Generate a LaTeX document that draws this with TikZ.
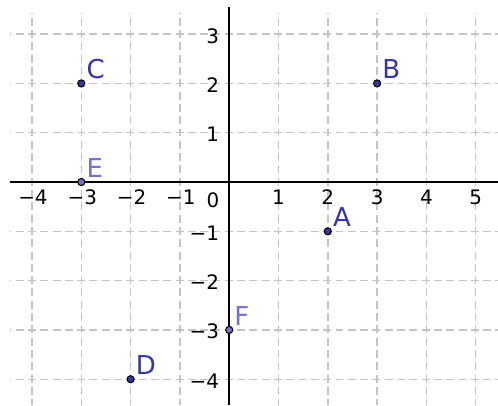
\documentclass[tikz,border=0pt]{standalone}
\usepackage{fontspec}
\setmainfont{DejaVu Sans}
\usetikzlibrary{positioning}
\definecolor{ggbdark}{HTML}{3535A5}
\definecolor{ggblight}{HTML}{7272CC}
\definecolor{ggbgrid}{HTML}{C4C4C4}

\begin{document}
\begin{tikzpicture}[
  gridv/.style={ggbgrid,line width=0.8pt,dash pattern=on 4.6pt off 2.5pt,dash phase=4.58pt},
  gridh/.style={ggbgrid,line width=0.8pt,dash pattern=on 4.6pt off 2.5pt,dash phase=3.73pt},
  axis/.style={black,line width=1.1pt},
  tick/.style={font=\fontsize{11.5}{13}\selectfont,inner sep=0pt},
  pt/.style={circle,draw=black,line width=0.6pt,minimum size=1.45mm,inner sep=0pt},
  lbl/.style={font=\fontsize{15}{18}\selectfont,inner sep=0pt}]
  \useasboundingbox (-4.649,-4.523) rectangle (5.452,3.692);
  \foreach \x in {-4,...,5}
    \draw[gridv] (\x,3.42) -- (\x,-4.523);
  \foreach \y in {-4,...,3}
    \draw[gridh] (-4.45,\y) -- (5.452,\y);
  \coordinate (xl) at (-4.45,0);
  \coordinate (xr) at (5.452,0);
  \coordinate (yt) at (0,3.55);
  \coordinate (yb) at (0,-4.523);
  \draw[axis] (xl) -- (xr);
  \draw[axis] (yt) -- (yb);
  \foreach \x in {1,...,5}
    \node[tick] (xp\x) at (\x,-0.31) {\x};
  \foreach \x in {1,...,4}
    \node[tick] (xm\x) at (-\x+0.02,-0.31) {−\x};
  \foreach \y in {1,...,3}
    \node[tick,anchor=east] (yp\y) at (-0.2,\y-0.035) {\y};
  \foreach \y in {1,...,4}
    \node[tick,anchor=east] (ym\y) at (-0.2,-\y-0.035) {−\y};
  \node[tick] (o) at (-0.33,-0.37) {0};
  \node[pt,fill=ggbdark] (A) at (2,-1) {};
  \node[pt,fill=ggbdark] (B) at (3,2) {};
  \node[pt,fill=ggbdark] (C) at (-3,2) {};
  \node[pt,fill=ggbdark] (D) at (-2,-4) {};
  \node[pt,fill=ggblight] (E) at (-3,0) {};
  \node[pt,fill=ggblight] (F) at (0,-3) {};
  \node[lbl,text=ggbdark,above right=0.03cm and 0.04cm of A] (lA) {A};
  \node[lbl,text=ggbdark,above right=0.03cm and 0.04cm of B] (lB) {B};
  \node[lbl,text=ggbdark,above right=0.03cm and 0.04cm of C] (lC) {C};
  \node[lbl,text=ggbdark,above right=0.03cm and 0.04cm of D] (lD) {D};
  \node[lbl,text=ggblight,above right=0.03cm and 0.04cm of E] (lE) {E};
  \node[lbl,text=ggblight,above right=0.03cm and 0.04cm of F] (lF) {F};
\end{tikzpicture}
\end{document}
